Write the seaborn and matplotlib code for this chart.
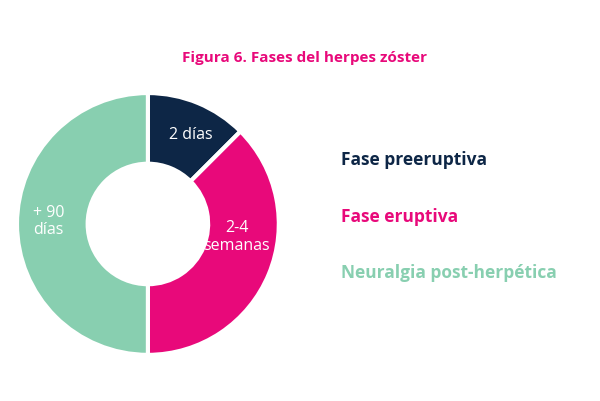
import matplotlib.pyplot as plt
import seaborn as sns

sns.set_theme(style="white")
plt.rcParams['font.family'] = ['Open Sans', 'DejaVu Sans']

labels = ['2 días', '2-4\nsemanas', '+ 90\ndías']
legend_labels = ['Fase preeruptiva', 'Fase eruptiva', 'Neuralgia post-herpética']
values = [12.5, 37.5, 50]
colors = ['#0d2646', '#e8097a', '#88cfb0']

fig = plt.figure(figsize=(6, 4.01), dpi=100)
fig.text(0.508, 0.855, 'Figura 6. Fases del herpes zóster', color='#e8097a',
         fontsize=11, fontweight='bold', ha='center', va='center')

ax = fig.add_axes([0.028, 0.115, 0.437, 0.653])
wedges, texts = ax.pie(values, colors=colors, startangle=90, counterclock=False,
                       wedgeprops=dict(width=0.54, edgecolor='white', linewidth=3))
ax.set_xlim(-1, 1)
ax.set_ylim(-1, 1)
ax.set_aspect('equal')
pos = [(0.33, 0.68), (0.68, -0.1), (-0.76, 0.02)]
for (x, y), lab in zip(pos, labels):
    ax.text(x, y, lab, color='white', fontsize=11.5, ha='center', va='center',
            linespacing=1.1)

for i, (lab, c) in enumerate(zip(legend_labels, colors)):
    fig.text(0.568, 0.6 - i * 0.14, lab, color=c, fontsize=12.5, fontweight='bold', va='center')

fig.savefig('out.png', dpi=100, facecolor='white')
